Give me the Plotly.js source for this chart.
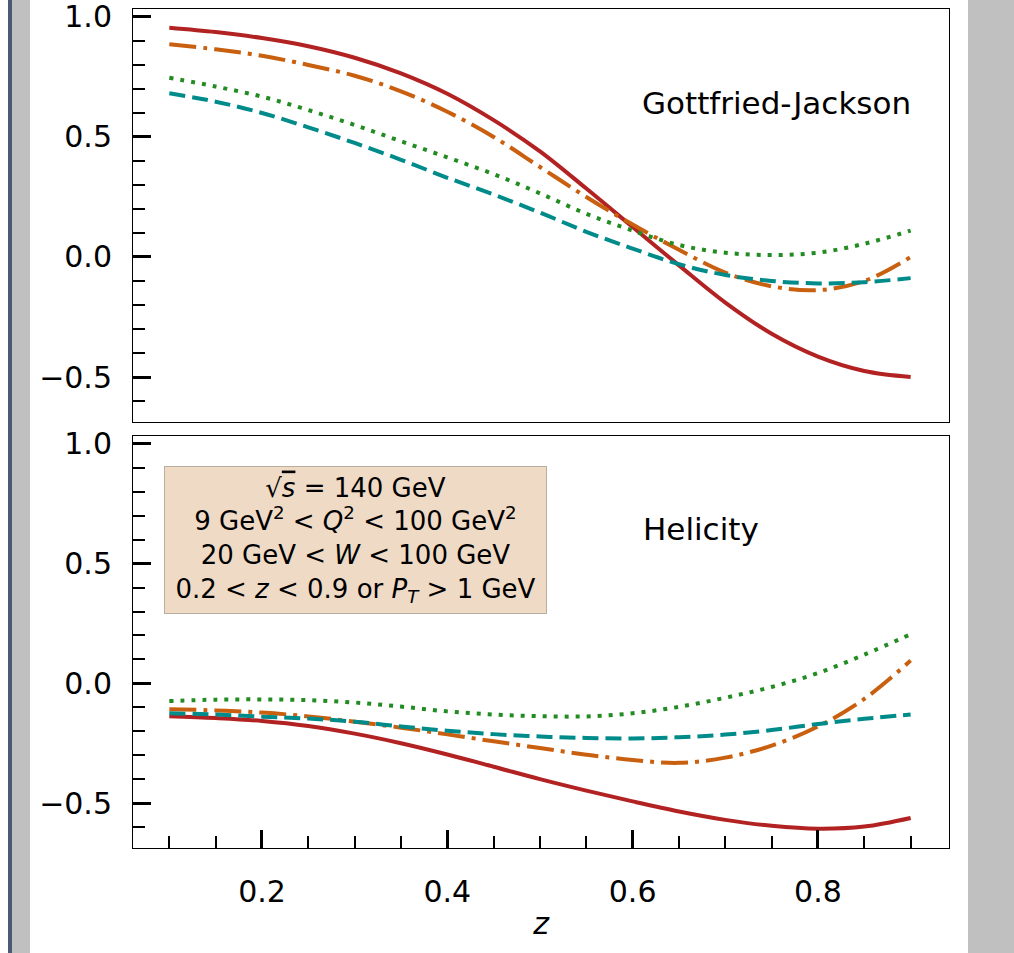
<!DOCTYPE html>
<html>
<head>
<meta charset="utf-8">
<script src="https://cdn.plot.ly/plotly-3.0.1.min.js"></script>
<style>
html,body{margin:0;padding:0;}
body{width:1014px;height:953px;position:relative;overflow:hidden;background:#c0c0c0;}
#w0{position:absolute;left:0;top:0;width:8px;height:953px;background:#ffffff;}
#dk{position:absolute;left:8px;top:0;width:4px;height:953px;background:#4a5a72;}
#wm{position:absolute;left:30px;top:0;width:938px;height:953px;background:#ffffff;}
#plot{position:absolute;left:0;top:0;width:1014px;height:953px;}
</style>
</head>
<body>
<div id="w0"></div><div id="dk"></div><div id="wm"></div>
<div id="plot"></div>
<script>
// z grid
const z = [0.10,0.15,0.20,0.25,0.30,0.35,0.40,0.45,0.50,0.55,0.60,0.65,0.70,0.75,0.80,0.85,0.90];

// Gottfried-Jackson frame
const gjRed    = [0.955,0.937,0.912,0.878,0.830,0.765,0.680,0.570,0.440,0.285,0.125,-0.035,-0.190,-0.320,-0.415,-0.475,-0.500];
const gjOrange = [0.886,0.865,0.838,0.800,0.755,0.690,0.605,0.500,0.375,0.250,0.135,0.030,-0.065,-0.122,-0.138,-0.100,0.000];
const gjGreen  = [0.747,0.710,0.668,0.612,0.550,0.482,0.415,0.345,0.265,0.180,0.110,0.050,0.018,0.008,0.018,0.055,0.110];
const gjTeal   = [0.682,0.647,0.600,0.540,0.475,0.405,0.330,0.260,0.185,0.105,0.035,-0.030,-0.075,-0.100,-0.110,-0.105,-0.088];

// Helicity frame
const hxRed    = [-0.137,-0.145,-0.157,-0.178,-0.210,-0.250,-0.297,-0.348,-0.400,-0.448,-0.493,-0.535,-0.570,-0.595,-0.607,-0.598,-0.562];
const hxOrange = [-0.108,-0.113,-0.122,-0.138,-0.160,-0.185,-0.213,-0.242,-0.270,-0.298,-0.320,-0.332,-0.310,-0.260,-0.180,-0.065,0.095];
const hxGreen  = [-0.074,-0.068,-0.067,-0.070,-0.080,-0.097,-0.117,-0.130,-0.137,-0.138,-0.125,-0.098,-0.060,-0.015,0.043,0.120,0.205];
const hxTeal   = [-0.125,-0.130,-0.139,-0.147,-0.160,-0.180,-0.198,-0.212,-0.222,-0.228,-0.230,-0.225,-0.214,-0.195,-0.170,-0.148,-0.130];

const xTickVals = [0.2,0.4,0.6,0.8];
const xTickText = ['0.2','0.4','0.6','0.8'];
const yTickVals = [-0.5,0,0.5,1.0];
const yTickText = ['\u22120.5','0.0','0.5','1.0'];

const panelLabels = ['Gottfried-Jackson','Helicity'];
const boxLines = [
  '\u221A<span style="text-decoration:overline"><i>s</i></span> = 140 GeV',
  '9 GeV<sup>2</sup> &lt; <i>Q</i><sup>2</sup> &lt; 100 GeV<sup>2</sup>',
  '20 GeV &lt; <i>W</i> &lt; 100 GeV',
  '0.2 &lt; <i>z</i> &lt; 0.9 or <i>P</i><sub><i>T</i></sub> &gt; 1 GeV'
];

const RED='#b22222', ORANGE='#c9600f', GREEN='#228b22', TEAL='#008b8b';
const styles = [
  {color:RED, dash:'solid'},
  {color:ORANGE, dash:'27px,7px,4px,7px'},
  {color:GREEN, dash:'4px,7px'},
  {color:TEAL, dash:'16px,7px'}
];

function mk(y, s, xa, ya){
  return {x:z, y:y, type:'scatter', mode:'lines', xaxis:xa, yaxis:ya,
    line:{color:s.color, width:4, dash:s.dash, shape:'spline', smoothing:1},
    hoverinfo:'skip', showlegend:false};
}

const data = [
  mk(gjRed, styles[0], 'x2','y2'),
  mk(gjOrange, styles[1], 'x2','y2'),
  mk(gjGreen, styles[2], 'x2','y2'),
  mk(gjTeal, styles[3], 'x2','y2'),
  mk(hxRed, styles[0], 'x','y'),
  mk(hxOrange, styles[1], 'x','y'),
  mk(hxGreen, styles[2], 'x','y'),
  mk(hxTeal, styles[3], 'x','y')
];

const font = {family:'DejaVu Sans, sans-serif', size:30, color:'#000'};
const XR = [0.0608, 0.9414];
const YR = [-0.6875, 1.033];

const yaxisBase = {
  range:YR, showgrid:false, zeroline:false, showline:true, mirror:true,
  linecolor:'#000', linewidth:1,
  tickvals:yTickVals, ticktext:yTickText, ticks:'inside', ticklen:18, tickwidth:3, tickcolor:'#000',
  minor:{ticks:'inside', dtick:0.1, tick0:0, ticklen:12, tickwidth:2, tickcolor:'#000', showgrid:false},
  tickfont:{family:'DejaVu Sans, sans-serif', size:30, color:'#000'},
  ticklabelstandoff:14, ticklabeloverflow:'allow'
};

const layout = {
  width:1014, height:953,
  margin:{l:133, r:65, t:9, b:105},
  paper_bgcolor:'rgba(0,0,0,0)', plot_bgcolor:'#fff',
  font:font, showlegend:false,
  xaxis:{
    domain:[0,1], anchor:'y', range:XR, showgrid:false, zeroline:false, showline:true, mirror:true,
    linecolor:'#000', linewidth:1,
    tickvals:xTickVals, ticktext:xTickText, ticks:'inside', ticklen:18, tickwidth:3, tickcolor:'#000',
    minor:{ticks:'inside', dtick:0.05, tick0:0, ticklen:12, tickwidth:2, tickcolor:'#000', showgrid:false},
    tickfont:{family:'DejaVu Sans, sans-serif', size:30, color:'#000'},
    ticklabelstandoff:17, ticklabeloverflow:'allow',
    title:{text:'<i>z</i>', font:{family:'DejaVu Sans, sans-serif', size:30, color:'#000'}, standoff:4}
  },
  xaxis2:{
    domain:[0,1], anchor:'y2', matches:'x', range:XR, showgrid:false, zeroline:false, showline:true, mirror:true,
    linecolor:'#000', linewidth:1, ticks:'', showticklabels:false
  },
  yaxis:Object.assign({}, yaxisBase, {domain:[0, 0.4911], anchor:'x'}),
  yaxis2:Object.assign({}, yaxisBase, {domain:[0.5077, 1], anchor:'x2'}),
  annotations:[
    {text:panelLabels[0], xref:'x2 domain', yref:'y2 domain', x:0.789, y:0.772, xanchor:'center', yanchor:'middle',
     showarrow:false, font:{family:'DejaVu Sans, sans-serif', size:31, color:'#000'}},
    {text:panelLabels[1], xref:'x domain', yref:'y domain', x:0.696, y:0.774, xanchor:'center', yanchor:'middle',
     showarrow:false, font:{family:'DejaVu Sans, sans-serif', size:31, color:'#000'}},
    {text:boxLines.join('<br>'), xref:'x domain', yref:'y domain', x:0.2727, y:0.7476, xanchor:'center', yanchor:'middle',
     showarrow:false, align:'center', width:381, height:146, borderpad:0,
     bgcolor:'#efdac6', bordercolor:'#bcae9f', borderwidth:1,
     font:{family:'DejaVu Sans, sans-serif', size:26, color:'#000'}}
  ]
};

Plotly.newPlot('plot', data, layout, {staticPlot:true, displayModeBar:false});
</script>
</body>
</html>
